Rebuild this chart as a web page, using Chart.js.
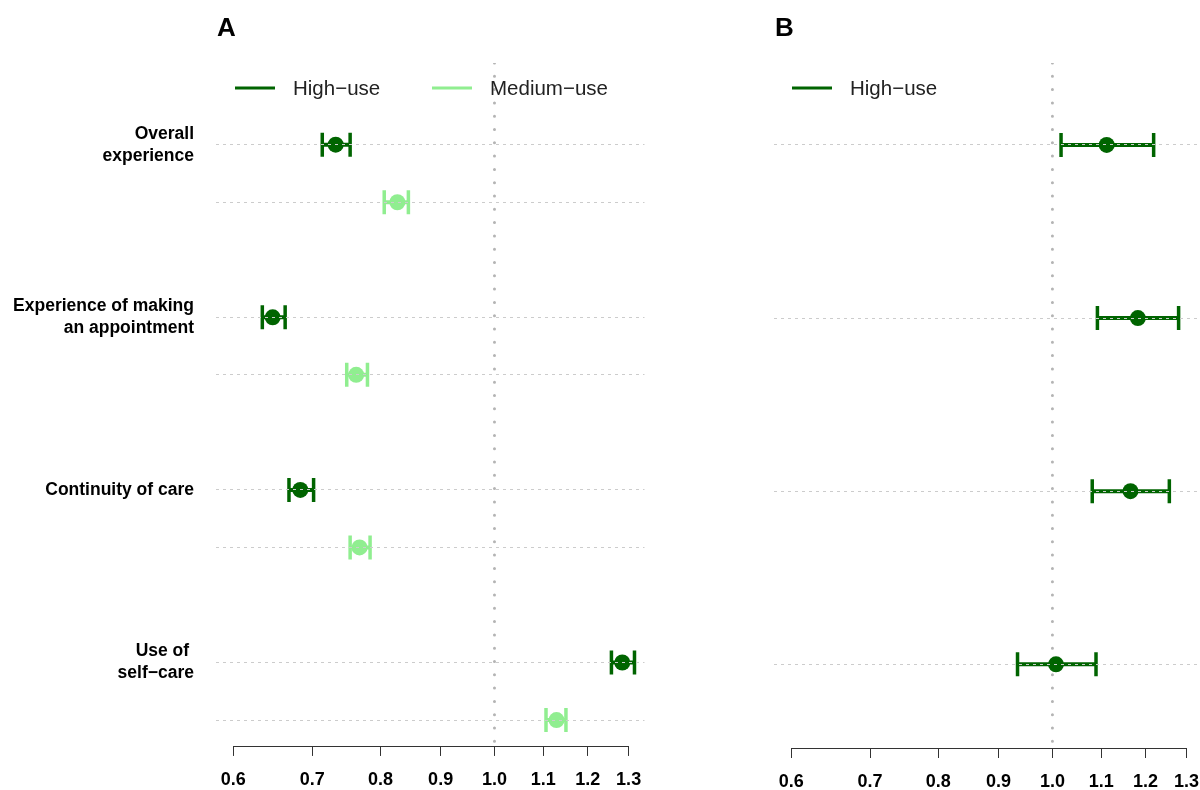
<!DOCTYPE html>
<html>
<head>
<meta charset="utf-8">
<script src="https://cdn.jsdelivr.net/npm/chart.js@4.4.1/dist/chart.umd.min.js"></script>
<style>
  html, body { margin: 0; padding: 0; background: #fff; overflow: hidden; }
  #wrap { position: relative; width: 1200px; height: 790px; overflow: hidden; }
  canvas { position: absolute; top: 0; }
  #panelA { left: 0; }
  #panelB { left: 660px; }
</style>
</head>
<body>
<div id="wrap">
  <canvas id="panelA" width="660" height="790"></canvas>
  <canvas id="panelB" width="560" height="790"></canvas>
</div>
<script>
// Odds ratios with 95% CI. Log x axis, one row per
// outcome; medium-use sits one slot under high-use in panel A.

const CATEGORIES = [
  ["Overall", "experience"],
  ["Experience of making", "an appointment"],
  ["Continuity of care"],
  ["Use of ", "self\u2212care"],
];
const ROW_HIGH = [0, 3, 6, 9];
const ROW_MED = [1, 4, 7, 10];

const A_HIGH_OR = [0.733, 0.648, 0.684, 1.284];
const A_HIGH_LO = [0.714, 0.635, 0.669, 1.257];
const A_HIGH_HI = [0.754, 0.664, 0.702, 1.315];

const A_MED_OR = [0.827, 0.763, 0.768, 1.129];
const A_MED_LO = [0.806, 0.749, 0.754, 1.106];
const A_MED_HI = [0.845, 0.780, 0.784, 1.150];

const B_HIGH_OR = [1.112, 1.182, 1.165, 1.007];
const B_HIGH_LO = [1.017, 1.092, 1.081, 0.934];
const B_HIGH_HI = [1.219, 1.280, 1.257, 1.089];

const X_TICKS = [0.6, 0.7, 0.8, 0.9, 1.0, 1.1, 1.2, 1.3];
const NULL_EFFECT = 1.0;

// axis limits: R's 4% extension past 0.6..1.3 on a log axis
const X_MIN = 0.5817;
const X_MAX = 1.341;
const Y_MIN = -1.42;
const Y_MAX = 10.45;

const HIGH_GREEN = "#006400";
const MED_GREEN = "#90ee90";
const REF_GREY = "#b4b4b4";
const GRID_GREY = "#cccccc";
const FONT = "'Liberation Sans', Arial, sans-serif";

// panel letter, legend and the axis baseline (only between first and last tick)
const panelDecor = {
  id: "panelDecor",
  afterDraw(chart, args, opts) {
    const { ctx, chartArea } = chart;
    const x = chart.scales.x;
    ctx.save();
    ctx.strokeStyle = "#333";
    ctx.lineWidth = 1;
    ctx.beginPath();
    const yb = Math.round(chartArea.bottom) + 0.5;
    ctx.moveTo(x.getPixelForValue(X_TICKS[0]), yb);
    ctx.lineTo(x.getPixelForValue(X_TICKS[X_TICKS.length - 1]), yb);
    ctx.stroke();

    ctx.fillStyle = "#000";
    ctx.font = `bold 26px ${FONT}`;
    ctx.textBaseline = "middle";
    ctx.textAlign = "left";
    ctx.fillText(opts.letter, opts.letterX, 29);

    ctx.font = `20.5px ${FONT}`;
    for (const it of opts.items) {
      ctx.strokeStyle = it.color;
      ctx.lineWidth = 3;
      ctx.beginPath();
      ctx.moveTo(it.x, 88);
      ctx.lineTo(it.x + 40, 88);
      ctx.stroke();
      ctx.fillStyle = "#222";
      ctx.fillText(it.label, it.x + 58, 89);
    }
    ctx.restore();
  },
};

function buildPanel(canvas, { series, yTicks, yWidth, padRight, showLabels, decor }) {
  const datasets = [
    {
      type: "line",
      data: [{ x: NULL_EFFECT, y: Y_MIN }, { x: NULL_EFFECT, y: Y_MAX }],
      borderColor: REF_GREY,
      borderWidth: 3,
      borderDash: [0, 13.3],
      borderCapStyle: "round",
      pointRadius: 0,
      order: 3,
    },
  ];
  for (const s of series) {
    s.or.forEach((v, i) => {
      datasets.push({
        type: "line",
        data: [{ x: s.lo[i], y: s.rows[i] }, { x: s.hi[i], y: s.rows[i] }],
        borderColor: s.color,
        borderWidth: 4,
        pointStyle: "line",
        pointRotation: 90,
        pointRadius: 12,
        pointBorderWidth: 3.5,
        pointBorderColor: s.color,
        order: 2,
      });
    });
    datasets.push({
      type: "scatter",
      data: s.or.map((v, i) => ({ x: v, y: s.rows[i] })),
      backgroundColor: s.color,
      borderColor: s.color,
      borderWidth: 0,
      pointRadius: 8,
      order: 1,
    });
  }

  return new Chart(canvas, {
    data: { datasets },
    plugins: [panelDecor],
    options: {
      responsive: false,
      animation: false,
      events: [],
      layout: { padding: { top: 63, right: padRight, left: 0, bottom: 0 } },
      plugins: { legend: { display: false }, tooltip: { enabled: false }, panelDecor: decor },
      scales: {
        x: {
          type: "logarithmic",
          min: X_MIN,
          max: X_MAX,
          afterBuildTicks: (sc) => { sc.ticks = X_TICKS.map((v) => ({ value: v })); },
          afterFit: (sc) => { sc.height = 42; },
          grid: { drawOnChartArea: false, drawTicks: true, tickLength: 10, color: "#333", lineWidth: 1 },
          border: { display: false },
          ticks: {
            callback: (v) => Number(v).toFixed(1),
            font: { family: FONT, size: 18, weight: "bold" },
            color: "#000",
            padding: 13,
            autoSkip: false,
            maxRotation: 0,
          },
        },
        y: {
          type: "linear",
          reverse: true,
          min: Y_MIN,
          max: Y_MAX,
          afterBuildTicks: (sc) => { sc.ticks = yTicks.map((v) => ({ value: v })); },
          afterFit: (sc) => { sc.width = yWidth; },
          grid: { color: GRID_GREY, lineWidth: 1, drawTicks: false, z: 1 },
          border: { display: false, dash: [3, 4] },
          ticks: {
            display: showLabels,
            callback: (v) => {
              const i = ROW_HIGH.indexOf(v);
              return i >= 0 ? CATEGORIES[i] : "";
            },
            font: { family: FONT, size: 17.5, weight: "bold", lineHeight: 1.26 },
            color: "#000",
            padding: 22,
            autoSkip: false,
          },
        },
      },
    },
  });
}

buildPanel(document.getElementById("panelA"), {
  series: [
    { or: A_HIGH_OR, lo: A_HIGH_LO, hi: A_HIGH_HI, rows: ROW_HIGH, color: HIGH_GREEN },
    { or: A_MED_OR, lo: A_MED_LO, hi: A_MED_HI, rows: ROW_MED, color: MED_GREEN },
  ],
  yTicks: [...ROW_HIGH, ...ROW_MED].sort((a, b) => a - b),
  yWidth: 216,
  padRight: 15,
  showLabels: true,
  decor: {
    letter: "A",
    letterX: 217,
    items: [
      { label: "High\u2212use", color: HIGH_GREEN, x: 235 },
      { label: "Medium\u2212use", color: MED_GREEN, x: 432 },
    ],
  },
});

buildPanel(document.getElementById("panelB"), {
  series: [{ or: B_HIGH_OR, lo: B_HIGH_LO, hi: B_HIGH_HI, rows: ROW_HIGH, color: HIGH_GREEN }],
  yTicks: ROW_HIGH,
  yWidth: 114,
  padRight: 17.6,
  showLabels: false,
  decor: {
    letter: "B",
    letterX: 115,
    items: [{ label: "High\u2212use", color: HIGH_GREEN, x: 132 }],
  },
});
</script>
</body>
</html>
